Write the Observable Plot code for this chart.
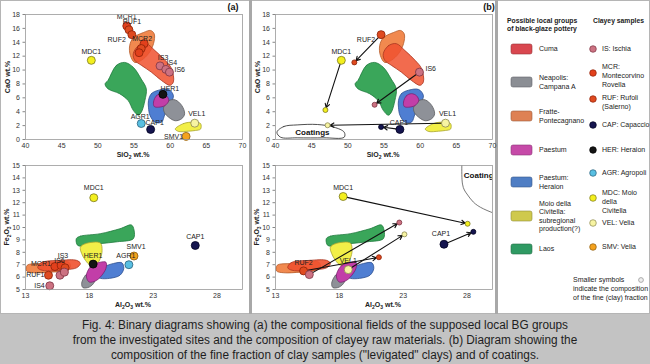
<!DOCTYPE html>
<html><head><meta charset="utf-8">
<script src="https://cdn.jsdelivr.net/npm/d3@7"></script>
<script src="https://cdn.jsdelivr.net/npm/@observablehq/plot@0.6"></script>
<style>
body{margin:0;background:#fff;}
#root{position:relative;width:650px;height:364px;overflow:hidden;font-family:"Liberation Sans",Arial,sans-serif;}
</style></head><body><div id="root"></div>
<script>
// ---------- tick values ----------
const xTicksSiO2 = [40,45,50,55,60,65,70];
const yTicksCaO = [0,2,4,6,8,10,12,14,16,18];
const xTicksAl2O3 = [13,18,23,28];
const yTicksFe2O3 = [5,6,7,8,9,10,11,12,13,14,15];

// ---------- legend entries ----------
const groupLines = [["Cuma"],["Neapolis:","Campana A"],["Fratte-","Pontecagnano"],["Paestum"],["Paestum:","Heraion"],["Moio della","Civitella:","subregional","production(?)"],["Laos"]];
const sampleLines = [["IS: Ischia"],["MCR:","Montecorvino","Rovella"],["RUF: Rufoli","(Salerno)"],["CAP: Capaccio"],["HER: Heraion"],["AGR: Agropoli"],["MDC: Moio","della","Civitella"],["VEL: Velia"],["SMV: Velia"]];
const sampleCodes = ["IS","MCR","RUF","CAP","HER","AGR","MDC","VEL","SMV"];

// ---------- compositional fields, SiO2 vs CaO ----------
const laosCaO = [[51.4,8.5],[52.55,10.66],[53.7,11.1],[54.9,10.4],[56.0,8.7],[56.7,7.3],[56.5,5.6],[56.0,3.9],[55.6,3.5],[54.9,4.2],[54.2,5.6],[53.0,6.6],[51.4,7.3],[51.0,8.0]];
const fratteCaO = [[54.4,13.5],[54.9,14.65],[56.3,15.4],[57.3,15.7],[57.8,15.2],[57.7,13.8],[57.0,12.35],[56.0,11.4],[55.1,11.1],[54.5,12.1]];
const cumaCaO = [[54.9,12.35],[55.6,13.5],[56.7,13.8],[57.9,12.8],[59.3,11.4],[60.2,10.2],[60.45,8.3],[60.0,7.8],[58.8,8.5],[57.4,9.7],[56.0,10.7],[55.1,11.4]];
const heraionCaO = [[57.0,5.6],[57.4,6.6],[58.4,7.1],[59.8,7.2],[60.45,6.3],[60.0,5.1],[59.3,3.7],[58.8,2.5],[57.9,2.5],[57.2,3.5],[57.0,4.65]];
const neapolisCaO = [[59.1,4.65],[59.8,5.6],[60.7,5.7],[61.6,4.9],[62.0,3.7],[61.6,3.0],[60.7,2.7],[59.8,3.2],[59.2,3.9]];
const paestumCaO = [[57.7,5.4],[58.1,6.3],[58.8,6.6],[59.5,6.3],[59.8,5.6],[59.3,4.9],[58.4,4.65],[57.8,4.75]];
const moioCaO = [[60.7,1.5],[61.85,2.3],[63.25,2.5],[64.2,2.3],[64.2,1.5],[63.5,1.3],[62.55,1.2],[61.2,1.15]];
const coatingsCaO = [[40.2,1.05],[41.15,1.87],[43.0,2.1],[45.8,2.16],[48.1,1.77],[49.5,1.05],[49.5,0.33],[46.7,0.24],[43.0,0.24],[40.7,0.33]];
const coatingsLabelCaO = [{x:45.1, y:1.0, text:"Coatings"}];

// ---------- compositional fields, Al2O3 vs Fe2O3 ----------
const laosFe = [[16.98,9.1],[17.3,9.3],[18.86,9.5],[20.4,9.9],[21.3,10.2],[21.5,9.8],[21.45,9.1],[20.2,8.85],[18.86,8.7],[17.8,8.55],[17.1,8.55]];
const moioFe = [[17.3,8.4],[17.7,8.7],[18.86,8.75],[19.0,8.15],[18.86,7.5],[18.6,7.1],[18.1,6.95],[17.7,7.35],[17.4,7.9]];
const fratteFe = [[13.13,6.95],[14.2,7.1],[15.5,7.2],[16.4,7.2],[16.5,6.8],[16.0,6.5],[14.95,6.4],[13.65,6.35],[13.08,6.5]];
const cumaFe = [[14.2,7.15],[15.7,7.35],[17.0,7.35],[17.3,7.1],[17.0,6.75],[16.2,6.6],[15.2,6.5],[14.3,6.55],[13.96,6.75]];
const neapolisFe = [[17.4,5.5],[17.7,6.15],[18.1,6.4],[18.5,6.2],[18.4,5.6],[18.0,5.2],[17.5,5.15]];
const paestumFe = [[17.8,6.3],[18.2,6.95],[18.86,7.2],[19.3,7.2],[19.3,6.7],[18.86,6.0],[18.5,5.7],[18.0,5.6],[17.8,5.9]];
const heraionFe = [[18.6,6.4],[19.1,6.8],[19.9,7.1],[20.55,7.15],[20.7,6.7],[20.4,6.15],[19.6,5.9],[18.86,5.9],[18.6,6.05]];
const coatingsFe = [[27.6,15.2],[27.65,13.5],[28.0,12.7],[28.5,12.05],[29.3,11.5],[30.5,11.0]];
const coatingsLabelFe = [{x:27.75, y:14.2, text:"Coatings"}];

// ---------- clay samples (a) ----------
const samplesCaO_a = [
  {id:"MCR1",t:"MCR",x:54.0,y:16.35},{id:"RUF1",t:"RUF",x:54.3,y:15.8},{id:"RUF2",t:"RUF",x:54.7,y:15.1},
  {id:"MCR2",t:"MCR",x:56.4,y:13.8},{id:"RUF3",t:"RUF",x:56.0,y:13.1},{id:"MCR3",t:"MCR",x:55.7,y:12.5},
  {id:"IS3",t:"IS",x:58.6,y:10.6},{id:"IS4",t:"IS",x:59.4,y:10.1},{id:"IS6",t:"IS",x:59.9,y:9.7},
  {id:"MDC1",t:"MDC",x:49.1,y:11.4},{id:"HER1",t:"HER",x:59.0,y:6.5},{id:"AGR1",t:"AGR",x:56.0,y:2.3},
  {id:"CAP1",t:"CAP",x:57.3,y:1.45},{id:"VEL1",t:"VEL",x:63.4,y:2.35},{id:"SMV1",t:"SMV",x:62.2,y:0.45}
];
const samplesFe_a = [
  {id:"MDC1",t:"MDC",x:18.35,y:12.4},{id:"CAP1",t:"CAP",x:26.3,y:8.55},{id:"SMV1",t:"SMV",x:21.5,y:7.7},
  {id:"AGR1",t:"AGR",x:21.1,y:7.0},{id:"HER1",t:"HER",x:18.3,y:7.05},{id:"IS4",t:"IS",x:14.9,y:5.3},
  {id:"RUF1",t:"RUF",x:14.8,y:6.15},{id:"MCR1",t:"MCR",x:15.3,y:6.85},{id:"MCR2",t:"MCR",x:15.8,y:6.95},
  {id:"RUF2",t:"RUF",x:16.1,y:6.75},{id:"IS3",t:"IS",x:15.7,y:6.15},{id:"IS6",t:"IS",x:16.05,y:6.4}
];
const hiddenFe = [{id:"VEL1",t:"VEL",x:18.7,y:6.6}];

// ---------- bulk vs fine fraction (b) ----------
const bulkCaO_b = [
  {id:"RUF2",t:"RUF",x:54.6,y:15.1},{id:"MDC1",t:"MDC",x:49.1,y:11.4},{id:"IS6",t:"IS",x:59.9,y:9.7},
  {id:"VEL1",t:"VEL",x:63.5,y:2.35},{id:"CAP1",t:"CAP",x:57.2,y:1.45}
];
const fineCaO_b = [
  {id:"RUF2",t:"RUF",x:50.9,y:11.1},{id:"MDC1",t:"MDC",x:46.9,y:4.25},{id:"IS6",t:"IS",x:53.7,y:5.0},
  {id:"VEL1",t:"VEL",x:47.2,y:2.05},{id:"CAP1",t:"CAP",x:54.6,y:1.8}
];
const bulkFe_b = [
  {id:"RUF2",t:"RUF",x:15.2,y:6.5},{id:"IS6",t:"IS",x:15.65,y:6.2},{id:"VEL1",t:"VEL",x:18.7,y:6.6},
  {id:"MDC1",t:"MDC",x:18.3,y:12.5},{id:"CAP1",t:"CAP",x:26.2,y:8.65}
];
const fineFe_b = [
  {id:"RUF2",t:"RUF",x:21.1,y:7.6},{id:"IS6",t:"IS",x:22.7,y:10.4},{id:"VEL1",t:"VEL",x:23.1,y:9.45},
  {id:"MDC1",t:"MDC",x:28.05,y:10.3},{id:"CAP1",t:"CAP",x:28.5,y:9.65}
];

// ---------- styles ----------
const FIELD_FILL = ["#f0512f","#8e9198","#f1894f","#c23ea8","#4f7ed2","#f2ef48","#3aa65a"];
const FIELD_STROKE = ["#a83520","#5a5c60","#b45a2a","#7c2070","#2c4f8f","#a8a430","#1e7a3c"];
const LEGEND_SWATCH = ["#d9474f","#8b8e94","#de8154","#c64aa8","#4f7ec4","#cfc94d","#2f9a63"];
const SAMPLE_FILL = {IS:"#cc7282",MCR:"#e2401c",RUF:"#df4a1f",CAP:"#15154f",HER:"#141414",AGR:"#58bfe2",MDC:"#f3ef1e",VEL:"#f7f4a2",SMV:"#f4a21e"};
const SAMPLE_STROKE = {IS:"#7d3342",MCR:"#8c2108",RUF:"#8c2108",CAP:"#000020",HER:"#000",AGR:"#2a5f7a",MDC:"#7a7620",VEL:"#8a8650",SMV:"#8a5a10"};
const FONT = "'Liberation Sans', Arial, sans-serif";

// label placements (pixel offsets)
const labelsCaO_a = [
  ["MCR1",0,-9,"middle"],["RUF1",3,-8,"middle"],["RUF2",-6,5,"end"],["MCR2",-2,-5,"middle"],
  ["IS3",3,-8,"middle"],["IS4",6,-7,"middle"],["IS6",5,-2,"start"],["MDC1",0,-9,"middle"],
  ["HER1",7,-6,"middle"],["AGR1",-1,-7,"middle"],["CAP1",4,-7,"middle"],["VEL1",2,-9,"middle"],["SMV1",-3,0,"end"]
];
const labelsFe_a = [
  ["MDC1",0,-10,"middle"],["CAP1",0,-9,"middle"],["SMV1",2,-9,"middle"],["AGR1",-3,-9,"middle"],
  ["HER1",0,-8,"middle"],["IS4",-5,0,"end"],["RUF1",-4,0,"end"],["MCR1",-4,-3,"end"],["IS6",-5,-11,"middle"],["IS3",3,-19,"middle"]
];
const labelsCaO_b = [["RUF2",-6,5,"end"],["MDC1",0,-9,"middle"],["IS6",6,-3,"start"],["VEL1",2,-9,"middle"],["CAP1",-1,-7,"middle"]];
const labelsFe_b = [["MDC1",0,-9,"middle"],["CAP1",-3,-10,"middle"],["RUF2",0,-8,"middle"],["VEL1",0,-9,"middle"]];

const root = document.getElementById("root");

function fieldMark(pts, i, extra={}) {
  return Plot.line(pts, {x:d=>d[0], y:d=>d[1], curve:"catmull-rom-closed",
    fill:FIELD_FILL[i], stroke:FIELD_STROKE[i], strokeWidth:0.8, ...extra});
}
function dots(data, r) {
  return Plot.dot(data, {x:"x", y:"y", r, fill:d=>SAMPLE_FILL[d.t], stroke:d=>SAMPLE_STROKE[d.t], strokeWidth:0.8});
}
function labels(data, spec) {
  return spec.map(([id,dx,dy,a]) => Plot.text(data.filter(d=>d.id===id), {x:"x", y:"y", text:"id", dx, dy, textAnchor:a, fontSize:7, fill:"#222"}));
}
function arrows(from, to) {
  const pairs = from.map(f => { const g = to.find(t=>t.id===f.id); return {x1:f.x,y1:f.y,x2:g.x,y2:g.y}; });
  return Plot.arrow(pairs, {x1:"x1",y1:"y1",x2:"x2",y2:"y2", stroke:"#111", strokeWidth:1.1, headLength:6, insetStart:4, insetEnd:2.5});
}
function makePlot({left, top, height, mt, mb, xDomain, yDomain, xTicks, yTicks, marks}) {
  const svg = Plot.plot({
    width:245, height, marginLeft:25, marginRight:3, marginTop:mt, marginBottom:mb,
    style:{background:"transparent", fontFamily:FONT, fontSize:"7px", color:"#333", overflow:"visible"},
    x:{domain:xDomain}, y:{domain:yDomain},
    marks:[
      ...marks,
      Plot.frame({stroke:"#9a9a9a", strokeWidth:0.8}),
      Plot.axisX({ticks:xTicks, tickSize:0, tickPadding:4, label:null}),
      Plot.axisY({ticks:yTicks, tickSize:2.5, tickPadding:3, label:null, stroke:"#888"})
    ]
  });
  svg.style.position = "absolute"; svg.style.left = left+"px"; svg.style.top = top+"px";
  root.appendChild(svg);
}

// ---------- overlay: background, separators, legend, titles, caption ----------
const ov = d3.select(root).append("svg").attr("width",650).attr("height",364)
  .style("position","absolute").style("left","0px").style("top","0px").style("font-family",FONT);
ov.append("rect").attr("width",650).attr("height",364).attr("fill","#c3c3c3");
ov.append("rect").attr("x",0.5).attr("y",0.5).attr("width",649).attr("height",313).attr("fill","#fff").attr("stroke","#b5b5b5");
[249,495].forEach(x => ov.append("rect").attr("x",x).attr("y",0).attr("width",3).attr("height",314).attr("fill","#a8a8a8"));

// panel labels
ov.append("text").attr("x",233).attr("y",10).attr("text-anchor","middle").attr("font-size",9).attr("font-weight","bold").attr("fill","#111").text("(a)");
ov.append("text").attr("x",489).attr("y",10).attr("text-anchor","middle").attr("font-size",9).attr("font-weight","bold").attr("fill","#111").text("(b)");

// axis titles (parts: [text, isSubscript])
function axTitle(x, y, parts, rotate) {
  const t = ov.append("text").attr("text-anchor","middle").attr("font-size",7).attr("font-weight","bold").attr("fill","#222")
    .attr("transform", `translate(${x},${y})` + (rotate ? " rotate(-90)" : "")).attr("dy","0.35em");
  let low = false;
  parts.forEach(([s,sub]) => {
    const ts = t.append("tspan").text(s);
    if (sub) { ts.attr("font-size",5).attr("dy", low ? 0 : 1.5); low = true; }
    else { if (low) ts.attr("dy",-1.5); low = false; }
  });
}
const siTitle = [["SiO",0],["2",1],[" wt.%",0]];
const caTitle = [["CaO wt.%",0]];
const alTitle = [["Al",0],["2",1],["O",0],["3",1],[" wt.%",0]];
const feTitle = [["Fe",0],["2",1],["O",0],["3",1],[" wt.%",0]];
axTitle(133,155,siTitle,false); axTitle(383,155,siTitle,false);
axTitle(8,77,caTitle,true); axTitle(258,77,caTitle,true);
axTitle(133,305,alTitle,false); axTitle(383,305,alTitle,false);
axTitle(7,227,feTitle,true); axTitle(257,227,feTitle,true);

// legend
const lg = ov.append("g").attr("font-size",7).attr("fill","#222");
lg.append("text").attr("x",507).attr("y",22.5).attr("font-weight","bold").attr("font-size",6.8).text("Possible local groups");
lg.append("text").attr("x",507).attr("y",31).attr("font-weight","bold").attr("font-size",6.8).text("of black-glaze pottery");
lg.append("text").attr("x",593).attr("y",22.5).attr("font-weight","bold").attr("font-size",6.8).text("Clayey samples");
const groupY = [49,82,116,150,182,216,249];
groupLines.forEach((lines,i) => {
  lg.append("rect").attr("x",511).attr("y",groupY[i]-5).attr("width",21).attr("height",10).attr("rx",2)
    .attr("fill",LEGEND_SWATCH[i]).attr("stroke",d3.color(LEGEND_SWATCH[i]).darker(1)).attr("stroke-width",0.6);
  const y0 = groupY[i] - (lines.length-1)*8.6/2;
  lines.forEach((s,k) => lg.append("text").attr("x",539).attr("y",y0+k*8.6).attr("dy","0.35em").text(s));
});
const sampleDotY = [49,73,99,125,150,173,198,223,247];
const sampleTextY = [49,67,98,125,150,173,193,223,247];
sampleLines.forEach((lines,i) => {
  const c = sampleCodes[i];
  lg.append("circle").attr("cx",593).attr("cy",sampleDotY[i]).attr("r",3.3).attr("fill",SAMPLE_FILL[c]).attr("stroke",SAMPLE_STROKE[c]).attr("stroke-width",0.7);
  lines.forEach((s,k) => lg.append("text").attr("x",602).attr("y",sampleTextY[i]+k*8.6).attr("dy","0.35em").text(s));
});
["Smaller symbols","indicate the composition","of the fine (clay) fraction"].forEach((s,k)=>
  lg.append("text").attr("x",573).attr("y",280+k*8.6).attr("dy","0.35em").text(s));
lg.append("circle").attr("cx",641).attr("cy",280).attr("r",2.4).attr("fill","#eee").attr("stroke","#999").attr("stroke-width",0.8);

// caption
const capLines = [
  "Fig. 4: Binary diagrams showing (a) the compositional fields of the supposed local BG groups",
  "from the investigated sites and the composition of clayey raw materials. (b) Diagram showing the",
  "composition of the fine fraction of clay samples (\"levigated\" clays) and of coatings."
];
const cap = ov.append("g").attr("transform","translate(325,0) scale(0.875,1)");
capLines.forEach((s,k)=> cap.append("text").attr("x",0).attr("y",329+k*15).attr("text-anchor","middle")
  .attr("font-size",13.5).attr("fill","#1e1e1e").text(s));

// ---------- plots ----------
const topFields = () => [
  fieldMark(laosCaO,6), fieldMark(fratteCaO,2), fieldMark(cumaCaO,0,{fillOpacity:0.85}),
  fieldMark(heraionCaO,4), fieldMark(neapolisCaO,1), fieldMark(paestumCaO,3), fieldMark(moioCaO,5)
];
const botFields = () => [
  fieldMark(laosFe,6), fieldMark(moioFe,5), fieldMark(fratteFe,2), fieldMark(cumaFe,0,{fillOpacity:0.9}),
  fieldMark(neapolisFe,1), fieldMark(heraionFe,4), fieldMark(paestumFe,3)
];

makePlot({left:0, top:0, height:160, mt:14, mb:21, xDomain:[40,70], yDomain:[0,18], xTicks:xTicksSiO2, yTicks:yTicksCaO,
  marks:[...topFields(), dots(samplesCaO_a,4), ...labels(samplesCaO_a, labelsCaO_a)]});

makePlot({left:0, top:150, height:163, mt:15, mb:24, xDomain:[13,30], yDomain:[5,15], xTicks:xTicksAl2O3, yTicks:yTicksFe2O3,
  marks:[dots(hiddenFe,4), ...botFields(), dots(samplesFe_a,4), ...labels(samplesFe_a, labelsFe_a)]});

makePlot({left:250, top:0, height:160, mt:14, mb:21, xDomain:[40,70], yDomain:[0,18], xTicks:xTicksSiO2, yTicks:yTicksCaO,
  marks:[...topFields(),
    Plot.line(coatingsCaO, {x:d=>d[0], y:d=>d[1], curve:"catmull-rom-closed", fill:"#fff", stroke:"#222", strokeWidth:0.8}),
    Plot.text(coatingsLabelCaO, {x:"x", y:"y", text:"text", fontWeight:"bold", fontSize:8, fill:"#111"}),
    arrows(bulkCaO_b, fineCaO_b), dots(bulkCaO_b,4), dots(fineCaO_b,2.5), ...labels(bulkCaO_b, labelsCaO_b)]});

makePlot({left:250, top:150, height:163, mt:15, mb:24, xDomain:[13,30], yDomain:[5,15], xTicks:xTicksAl2O3, yTicks:yTicksFe2O3,
  marks:[...botFields(),
    Plot.line(coatingsFe, {x:d=>d[0], y:d=>d[1], curve:"natural", stroke:"#555", strokeWidth:0.8, clip:true}),
    Plot.text(coatingsLabelFe, {x:"x", y:"y", text:"text", textAnchor:"start", fontWeight:"bold", fontSize:8, fill:"#111", clip:true}),
    arrows(bulkFe_b, fineFe_b), dots(bulkFe_b,4), dots(fineFe_b,2.5), ...labels(bulkFe_b, labelsFe_b)]});
</script></body></html>
